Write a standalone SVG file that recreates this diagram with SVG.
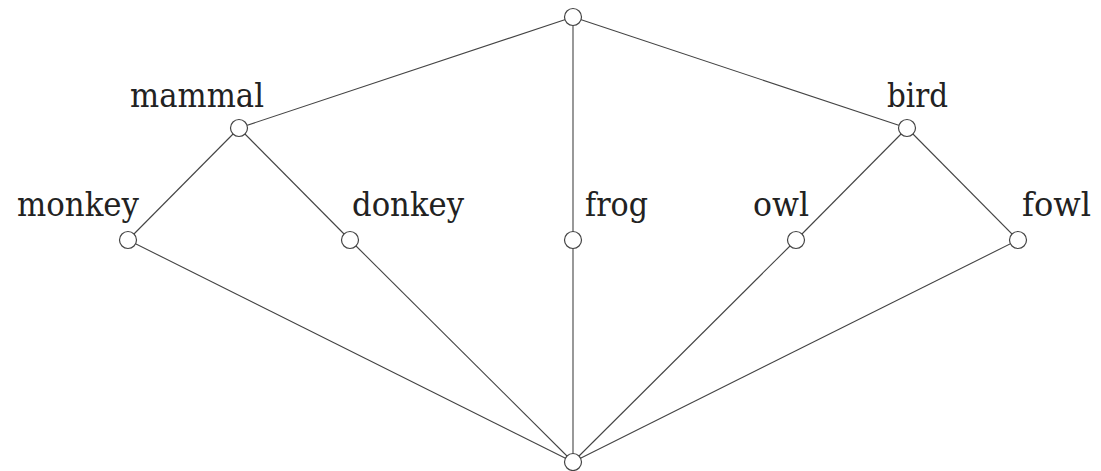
<svg xmlns="http://www.w3.org/2000/svg" width="1101" height="471" viewBox="0 0 1101 471">
<style>
.edge{stroke:#444;stroke-width:1.1;fill:none}
.node circle{fill:#fff;stroke:#444;stroke-width:1.2}
.lbl{font-family:'DejaVu Serif','Liberation Serif',serif;font-size:34px;fill:#222}
</style>
<rect width="1101" height="471" fill="#fff"/>
<g id="connectors">
<line class="edge" x1="573" y1="17" x2="239" y2="128"/>
<line class="edge" x1="573" y1="17" x2="573" y2="240"/>
<line class="edge" x1="573" y1="17" x2="907" y2="128"/>
<line class="edge" x1="239" y1="128" x2="128" y2="240"/>
<line class="edge" x1="239" y1="128" x2="350" y2="240"/>
<line class="edge" x1="907" y1="128" x2="796" y2="240"/>
<line class="edge" x1="907" y1="128" x2="1018" y2="240"/>
<line class="edge" x1="128" y1="240" x2="573" y2="462"/>
<line class="edge" x1="350" y1="240" x2="573" y2="462"/>
<line class="edge" x1="573" y1="240" x2="573" y2="462"/>
<line class="edge" x1="796" y1="240" x2="573" y2="462"/>
<line class="edge" x1="1018" y1="240" x2="573" y2="462"/>
</g>
<g id="top" class="node"><circle cx="573" cy="17" r="8.5"/></g>
<g id="mammal" class="node"><circle cx="239" cy="128" r="8.5"/><text class="lbl" x="130" y="107" textLength="134" lengthAdjust="spacingAndGlyphs">mammal</text></g>
<g id="bird" class="node"><circle cx="907" cy="128" r="8.5"/><text class="lbl" x="887" y="107" textLength="61" lengthAdjust="spacingAndGlyphs">bird</text></g>
<g id="monkey" class="node"><circle cx="128" cy="240" r="8.5"/><text class="lbl" x="17" y="216" textLength="122" lengthAdjust="spacingAndGlyphs">monkey</text></g>
<g id="donkey" class="node"><circle cx="350" cy="240" r="8.5"/><text class="lbl" x="352" y="216" textLength="112" lengthAdjust="spacingAndGlyphs">donkey</text></g>
<g id="frog" class="node"><circle cx="573" cy="240" r="8.5"/><text class="lbl" x="585" y="216" textLength="63" lengthAdjust="spacingAndGlyphs">frog</text></g>
<g id="owl" class="node"><circle cx="796" cy="240" r="8.5"/><text class="lbl" x="753" y="216" textLength="56" lengthAdjust="spacingAndGlyphs">owl</text></g>
<g id="fowl" class="node"><circle cx="1018" cy="240" r="8.5"/><text class="lbl" x="1022" y="216" textLength="69" lengthAdjust="spacingAndGlyphs">fowl</text></g>
<g id="bottom" class="node"><circle cx="573" cy="462" r="8.5"/></g>
</svg>
